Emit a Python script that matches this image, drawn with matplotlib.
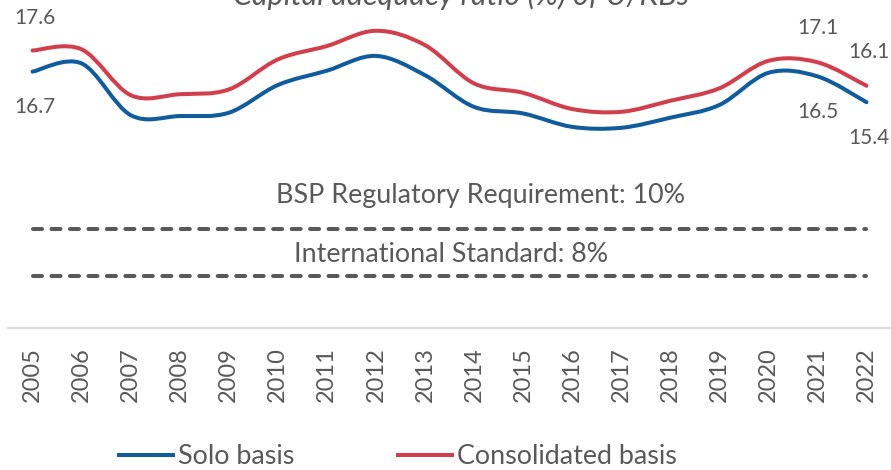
import numpy as np
import matplotlib
matplotlib.use("Agg")
import matplotlib.pyplot as plt
from matplotlib.path import Path
from matplotlib.patches import PathPatch
from matplotlib.lines import Line2D

years = [str(y) for y in range(2005, 2023)]
solo = [16.7, 17.05, 14.85, 14.81, 14.95, 16.13, 16.74, 17.37, 16.55,
        15.20, 14.92, 14.35, 14.31, 14.74, 15.28, 16.65, 16.5, 15.4]
consolidated = [17.6, 17.65, 15.70, 15.74, 15.94, 17.22, 17.79, 18.44, 17.83,
                16.20, 15.80, 15.11, 14.99, 15.46, 15.99, 17.16, 17.1, 16.1]
bsp_req = 10
intl_std = 8

BLUE = "#105C9C"
RED = "#D13F4C"
GRAY = "#595959"
W, H = 891, 470

plt.rcParams['font.family'] = ['Lato', 'DejaVu Sans']
plt.rcParams['lines.scale_dashes'] = False


def smooth_path(x, y):
    # excel-like smoothed line: cubic bezier through every point
    x = np.asarray(x, float)
    y = np.asarray(y, float)
    pts = np.column_stack([x, y])
    n = len(pts)
    verts = [pts[0]]
    codes = [Path.MOVETO]
    for i in range(n - 1):
        p0 = pts[i - 1] if i > 0 else pts[i]
        p1 = pts[i]
        p2 = pts[i + 1]
        p3 = pts[i + 2] if i + 2 < n else pts[i + 1]
        c1 = p1 + (p2 - p0) / 6.0
        c2 = p2 - (p3 - p1) / 6.0
        verts += [c1, c2, p2]
        codes += [Path.CURVE4] * 3
    return Path(verts, codes)


fig = plt.figure(figsize=(W / 100, H / 100), dpi=100)
ax = fig.add_axes([8 / W, 1 - 327.7 / H, 883 / W, 327.7 / H])
xs = np.arange(len(years))

for vals, col in [(solo, BLUE), (consolidated, RED)]:
    ax.add_patch(PathPatch(smooth_path(xs, vals), facecolor='none',
                           edgecolor=col, lw=2.9, capstyle='round',
                           joinstyle='round'))

for lvl in [bsp_req, intl_std]:
    ax.plot(xs, [lvl] * len(xs), color=GRAY, lw=2.9,
            dashes=(6.5, 6.8), dash_capstyle='round')

ax.set_xlim(-0.5, len(years) - 0.5)
ax.set_ylim(5.8, 19.75)
ax.set_xticks(xs)
ax.set_xticklabels(years, rotation=90, fontsize=17, color=GRAY)
ax.tick_params(axis='x', length=0, pad=14)
ax.set_yticks([])
for s in ['top', 'left', 'right']:
    ax.spines[s].set_visible(False)
ax.spines['bottom'].set_color('#D9D9D9')
ax.spines['bottom'].set_linewidth(1.4)

# value labels
lab = dict(fontsize=15, color=GRAY, ha='center', va='center',
           textcoords='offset pixels')
ax.annotate(f"{consolidated[0]:.1f}", (0, consolidated[0]), xytext=(2, 33), **lab)
ax.annotate(f"{solo[0]:.1f}", (0, solo[0]), xytext=(2, -35), **lab)
ax.annotate(f"{consolidated[16]:.1f}", (16, consolidated[16]), xytext=(0, 34), **lab)
ax.annotate(f"{solo[16]:.1f}", (16, solo[16]), xytext=(0, -36), **lab)
ax.annotate(f"{consolidated[17]:.1f}", (17, consolidated[17]), xytext=(2, 34), **lab)
ax.annotate(f"{solo[17]:.1f}", (17, solo[17]), xytext=(2, -36), **lab)

fig.text(481 / W, 1 - 196 / H, f"BSP Regulatory Requirement: {bsp_req}%",
         fontsize=19.4, color=GRAY, ha='center', va='center')
fig.text(451 / W, 1 - 255 / H, f"International Standard: {intl_std}%",
         fontsize=19.4, color=GRAY, ha='center', va='center')

# title sits mostly above the visible area, as in the source image
fig.text(461 / W, 1 - 5.5 / H, "Capital adequacy ratio (%) of U/KBs",
         fontsize=22, color=GRAY, ha='center', va='baseline', style='italic')

handles = [Line2D([], [], color=BLUE, lw=2.9), Line2D([], [], color=RED, lw=2.9)]
fig.legend(handles, ["Solo basis", "Consolidated basis"], loc='center',
           bbox_to_anchor=(398 / W, 1 - 457 / H), ncol=2, frameon=False,
           fontsize=19.4, handlelength=2.0, handletextpad=0.19,
           columnspacing=3.87, labelcolor=GRAY, borderpad=0)

fig.savefig("out.png", dpi=100)
